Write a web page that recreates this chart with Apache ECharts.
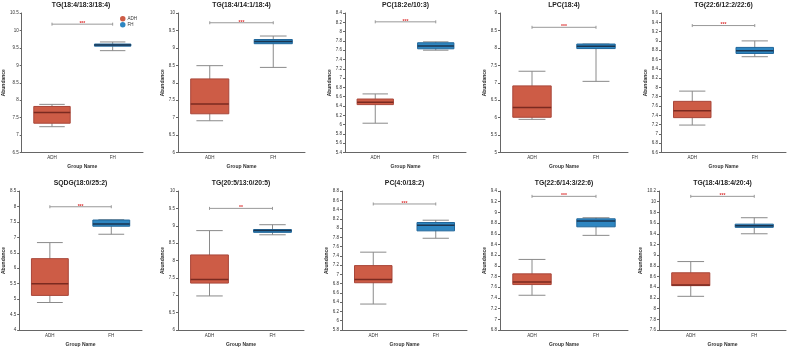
<!DOCTYPE html>
<html>
<head>
<meta charset="utf-8">
<script src="https://cdn.jsdelivr.net/npm/echarts@6/dist/echarts.min.js"></script>
<style>
  html, body { margin: 0; padding: 0; background: #fff; }
  #chart { width: 788px; height: 348px; }
</style>
</head>
<body>
<div id="chart"></div>
<script>
// panel titles
const titles = [
  'TG(18:4/18:3/18:4)', 'TG(18:4/14:1/18:4)', 'PC(18:2e/10:3)', 'LPC(18:4)', 'TG(22:6/12:2/22:6)',
  'SQDG(18:0/25:2)', 'TG(20:5/13:0/20:5)', 'PC(4:0/18:2)', 'TG(22:6/14:3/22:6)', 'TG(18:4/18:4/20:4)'
];
const groups = ['ADH', 'FH'];

// [min, Q1, median, Q3, max]
const adhStats = [
  [7.24, 7.34, 7.65, 7.82, 7.88],
  [6.91, 7.11, 7.39, 8.11, 8.49],
  [6.03, 6.43, 6.48, 6.55, 6.66],
  [5.95, 6.01, 6.29, 6.91, 7.33],
  [7.19, 7.35, 7.50, 7.70, 7.92],
  [4.89, 5.12, 5.50, 6.31, 6.83],
  [6.98, 7.35, 7.45, 8.16, 8.86],
  [6.36, 6.82, 6.89, 7.19, 7.48],
  [7.45, 7.65, 7.70, 7.85, 8.12],
  [8.23, 8.43, 8.44, 8.67, 8.88]
];
const fhStats = [
  [9.42, 9.55, 9.58, 9.61, 9.67],
  [8.44, 9.12, 9.18, 9.24, 9.34],
  [7.60, 7.63, 7.69, 7.76, 7.78],
  [7.04, 7.98, 8.05, 8.11, 8.11],
  [8.66, 8.73, 8.79, 8.86, 9.00],
  [7.10, 7.36, 7.43, 7.56, 7.57],
  [8.74, 8.81, 8.86, 8.89, 9.03],
  [7.78, 7.94, 8.06, 8.12, 8.17],
  [8.57, 8.73, 8.84, 8.88, 8.90],
  [9.40, 9.52, 9.55, 9.58, 9.70]
];

// y axis ranges
const yMin = [6.5, 6, 5.4, 5, 6.6, 4, 6, 5.8, 6.8, 7.6];
const yMax = [10.5, 10, 8.4, 9, 9.6, 8.5, 10, 8.8, 9.4, 10.2];
const yStep = [0.5, 0.5, 0.2, 0.5, 0.2, 0.5, 0.5, 0.2, 0.2, 0.2];

// significance bracket
const sigLevel = [10.18, 9.72, 8.21, 8.59, 9.33, 7.99, 9.5, 8.52, 9.30, 10.1];
const sigLabel = ['***', '***', '***', '***', '***', '***', '**', '***', '***', '***'];

// 每个面板的绘图区（像素）
const gridLeft = [19, 178, 345, 500, 661, 19, 178, 342, 500, 659];
const gridRight = [143, 305, 466, 628, 786, 142, 304, 467, 628, 786];

const FONT = 'Arial, "Liberation Sans", sans-serif';

const colors = {
  ADH: { fill: '#cd5c46', border: '#a9473a', median: '#7a2a20' },
  FH: { fill: '#2e86c1', border: '#22679a', median: '#1b3550' },
  whisker: '#8a8a8a',
  axis: '#666',
  text: '#333'
};

const chart = echarts.init(document.getElementById('chart'));

const grids = [], xAxes = [], yAxes = [], series = [], titleOpts = [];

function boxRenderer(group) {
  const c = colors[group];
  return function (params, api) {
    const cat = api.value(0);
    const pMin = api.coord([cat, api.value(1)]);
    const pQ1 = api.coord([cat, api.value(2)]);
    const pMed = api.coord([cat, api.value(3)]);
    const pQ3 = api.coord([cat, api.value(4)]);
    const pMax = api.coord([cat, api.value(5)]);
    const band = api.size([1, 0])[0];
    const bw = band * 0.6;
    const cw = bw * 0.7;
    const x = pMed[0];
    const lineStyle = { stroke: colors.whisker, lineWidth: 1 };
    return {
      type: 'group',
      children: [
        { type: 'line', shape: { x1: x, y1: pMin[1], x2: x, y2: pMax[1] }, style: lineStyle },
        { type: 'line', shape: { x1: x - cw / 2, y1: pMin[1], x2: x + cw / 2, y2: pMin[1] }, style: lineStyle },
        { type: 'line', shape: { x1: x - cw / 2, y1: pMax[1], x2: x + cw / 2, y2: pMax[1] }, style: lineStyle },
        {
          type: 'rect',
          shape: { x: x - bw / 2, y: pQ3[1], width: bw, height: pQ1[1] - pQ3[1] },
          style: { fill: c.fill, stroke: c.border, lineWidth: 1 }
        },
        {
          type: 'line',
          shape: { x1: x - bw / 2, y1: pMed[1], x2: x + bw / 2, y2: pMed[1] },
          style: { stroke: c.median, lineWidth: 1.5 }
        }
      ]
    };
  };
}

function sigRenderer(params, api) {
  const a = api.coord([0, api.value(0)]);
  const b = api.coord([1, api.value(0)]);
  const label = sigLabel[api.value(1)];
  const st = { stroke: '#999', lineWidth: 1 };
  return {
    type: 'group',
    children: [
      { type: 'line', shape: { x1: a[0], y1: a[1], x2: b[0], y2: b[1] }, style: st },
      { type: 'line', shape: { x1: a[0], y1: a[1] - 1.5, x2: a[0], y2: a[1] + 1.5 }, style: st },
      { type: 'line', shape: { x1: b[0], y1: b[1] - 1.5, x2: b[0], y2: b[1] + 1.5 }, style: st },
      {
        type: 'text',
        style: {
          x: (a[0] + b[0]) / 2, y: a[1] - 0.5, text: label,
          fill: '#d33', font: 'bold 5px ' + FONT,
          align: 'center', verticalAlign: 'middle'
        }
      }
    ]
  };
}

titles.forEach((t, i) => {
  const row = i < 5 ? 0 : 1;
  const top = row === 0 ? 13 : 191;
  const height = row === 0 ? 139.5 : 140.5;
  grids.push({ left: gridLeft[i], width: gridRight[i] - gridLeft[i], top: top, height: height });
  titleOpts.push({
    text: t,
    left: (gridLeft[i] + gridRight[i]) / 2,
    top: row === 0 ? 2 : 180,
    textAlign: 'center',
    padding: 0,
    textStyle: { fontSize: 6.8, fontWeight: 'bold', color: '#222', fontFamily: FONT }
  });
  xAxes.push({
    gridIndex: i,
    type: 'category',
    data: groups,
    name: 'Group Name',
    nameLocation: 'middle',
    nameGap: 12,
    nameTextStyle: { fontSize: 5, fontWeight: 'bold', color: colors.text },
    axisLine: { lineStyle: { color: colors.axis, width: 1 } },
    axisTick: { alignWithLabel: true, length: 2, lineStyle: { color: colors.axis } },
    axisLabel: { fontSize: 4.5, color: colors.text, margin: 3 },
    splitLine: { show: false }
  });
  yAxes.push({
    gridIndex: i,
    type: 'value',
    min: yMin[i],
    max: yMax[i],
    interval: yStep[i],
    name: 'Abundance',
    nameLocation: 'middle',
    nameRotate: 90,
    nameGap: 13,
    nameTextStyle: { fontSize: 5, fontWeight: 'bold', color: colors.text },
    axisLine: { show: true, lineStyle: { color: colors.axis, width: 1 } },
    axisTick: { show: true, length: 2, lineStyle: { color: colors.axis } },
    axisLabel: { fontSize: 4.5, color: colors.text, margin: 3 },
    splitLine: { show: false }
  });
  series.push({
    name: 'ADH', type: 'custom', xAxisIndex: i, yAxisIndex: i,
    itemStyle: { color: colors.ADH.fill },
    renderItem: boxRenderer('ADH'),
    encode: { x: 0, y: [1, 2, 3, 4, 5] },
    data: [[0].concat(adhStats[i])]
  });
  series.push({
    name: 'FH', type: 'custom', xAxisIndex: i, yAxisIndex: i,
    itemStyle: { color: colors.FH.fill },
    renderItem: boxRenderer('FH'),
    encode: { x: 0, y: [1, 2, 3, 4, 5] },
    data: [[1].concat(fhStats[i])]
  });
  series.push({
    name: 'sig' + i, type: 'custom', xAxisIndex: i, yAxisIndex: i,
    renderItem: sigRenderer,
    encode: { y: 0 },
    data: [[sigLevel[i], i]],
    silent: true
  });
});

chart.setOption({
  animation: false,
  textStyle: { fontFamily: FONT },
  title: titleOpts,
  legend: {
    data: ['ADH', 'FH'],
    orient: 'vertical',
    left: 120,
    top: 16,
    padding: 0,
    icon: 'circle',
    itemWidth: 5.5,
    itemHeight: 5.5,
    itemGap: 0.5,
    textStyle: { fontSize: 4.5, color: colors.text, padding: [0, 0, 0, -3] }
  },
  grid: grids,
  xAxis: xAxes,
  yAxis: yAxes,
  series: series
});
</script>
</body>
</html>
